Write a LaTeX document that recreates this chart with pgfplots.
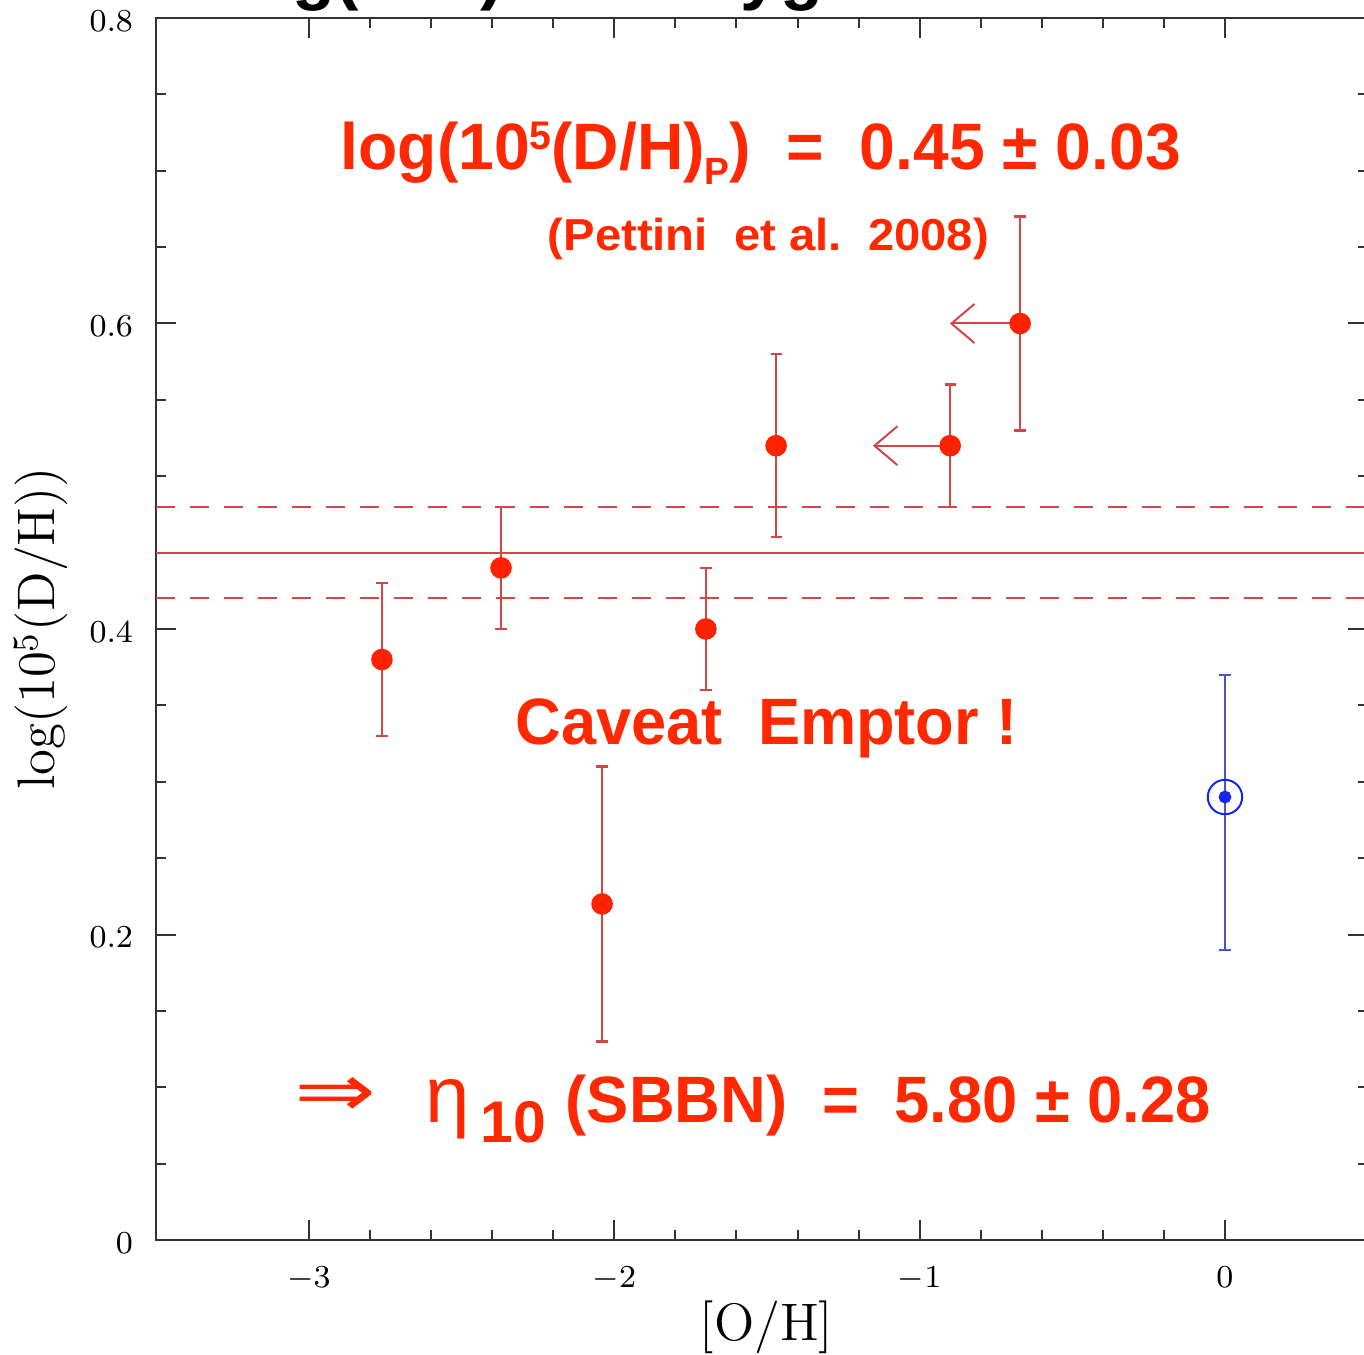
\documentclass[border=0pt]{standalone}
\usepackage{fontspec}
\usepackage{pgfplots}
\pgfplotsset{compat=1.18}
\usetikzlibrary{arrows.meta}
\newfontfamily\lsans{Liberation Sans}
\newfontfamily\djv{DejaVu Sans}
\definecolor{redtxt}{RGB}{255,40,0}
\definecolor{reddot}{RGB}{255,34,0}
\definecolor{redline}{RGB}{210,70,70}
\definecolor{blueline}{RGB}{70,85,210}
\definecolor{bluedot}{RGB}{20,40,235}
\begin{document}
\begin{tikzpicture}
\begin{axis}[
  scale only axis, width=303.04pt, height=305.5pt,
  xmin=-3.5, xmax=0.47, ymin=0, ymax=0.8,
  xtick={-3,-2,-1,0}, ytick={0,0.2,0.4,0.6,0.8},
  minor x tick num=4, minor y tick num=3,
  tick align=inside, major tick length=5pt, minor tick length=2.5pt,
  axis line style={line width=0.6pt, draw=black!80},
  every tick/.append style={line width=0.5pt, black!80},
  tick label style={font=\fontsize{8}{8}\selectfont},
  xticklabel style={yshift=-3.1pt},
  yticklabel style={xshift=-2.3pt, yshift=-0.7pt},
  xlabel={[O/H]}, ylabel={log(10$^5$(D/H))},
  label style={font=\fontsize{13.2}{13.2}\selectfont},
  xlabel style={at={(rel axis cs:0.5034,-0.0716)}, anchor=center},
  ylabel style={at={(rel axis cs:-0.0951,0.5004)}, anchor=center},
  clip=false,
]
% reference lines
\addplot[redline, line width=0.5pt] coordinates {(-3.5,0.45) (0.47,0.45)};
\addplot[redline, line width=0.5pt, dash pattern=on 4.75pt off 3.75pt] coordinates {(-3.5,0.48) (0.47,0.48)};
\addplot[redline, line width=0.5pt, dash pattern=on 4.75pt off 3.75pt] coordinates {(-3.5,0.42) (0.47,0.42)};
% upper-limit arrows
\addplot[redline, line width=0.5pt, -{Straight Barb[length=5.75pt, width=9.75pt]}] coordinates {(-0.90,0.52) (-1.153,0.52)};
\addplot[redline, line width=0.5pt, -{Straight Barb[length=5.75pt, width=9.75pt]}] coordinates {(-0.671,0.60) (-0.901,0.60)};
% red data
\addplot[only marks, mark=*, mark size=2.5pt, mark options={fill=reddot, draw=reddot},
  error bars/.cd, y dir=both, y explicit,
  error bar style={redline, line width=0.55pt},
  error mark options={rotate=90, redline, mark size=1.4pt, line width=0.55pt}]
  table[x=x, y=y, y error plus=ep, y error minus=em] {
x y ep em
-2.761 0.38 0.05 0.05
-2.371 0.44 0.04 0.04
-2.040 0.22 0.09 0.09
-1.700 0.40 0.04 0.04
-1.470 0.52 0.06 0.06
-0.900 0.52 0.04 0.04
-0.671 0.60 0.07 0.07
};
% solar value
\addplot[only marks, mark=o, mark size=4.3pt, mark options={draw=bluedot, line width=0.5pt},
  error bars/.cd, y dir=both, y explicit,
  error bar style={blueline, line width=0.55pt},
  error mark options={rotate=90, blueline, mark size=1.4pt, line width=0.55pt}]
  table[x=x, y=y, y error plus=ep, y error minus=em] {
x y ep em
0 0.29 0.08 0.10
};
\addplot[only marks, mark=*, mark size=1.4pt, bluedot] coordinates {(0,0.29)};
% annotations
\node[anchor=base west, inner sep=0, text=black, font=\lsans\bfseries\fontsize{17.6}{17.6}\selectfont] at (axis cs:-3.262,0.8144) {log(D/H) vs. Oxygen};
\node[anchor=base west, inner sep=0, text=redtxt, font=\lsans\bfseries\fontsize{16.4}{16.4}\selectfont] at (axis cs:-2.8985,0.7005)
  {\resizebox{210pt}{\height}{log(10\raisebox{5pt}{\fontsize{10}{10}\selectfont 5}(D/H)\raisebox{-3.75pt}{\fontsize{9.5}{9.5}\selectfont P})\ \ =\ \ 0.45 ± 0.03}};
\node[anchor=base west, inner sep=0, text=redtxt, font=\lsans\bfseries\fontsize{11.2}{11.2}\selectfont] at (axis cs:-2.2205,0.6481)
  {\resizebox{110.25pt}{\height}{(Pettini\ \ et al.\ \ 2008)}};
\node[anchor=base west, inner sep=0, text=redtxt, font=\lsans\bfseries\fontsize{16.4}{16.4}\selectfont] at (axis cs:-2.3253,0.3241)
  {\resizebox{125.5pt}{\height}{Caveat\ \ Emptor !}};
\node[anchor=center, inner sep=0, text=redtxt, font=\djv\fontsize{16}{16}\selectfont] at (axis cs:-2.9116,0.0933)
  {\resizebox{20.5pt}{9.75pt}{⇒}};
\node[anchor=base west, inner sep=0, text=redtxt, font=\lsans\fontsize{20}{20}\selectfont] at (axis cs:-2.6201,0.07725) {η};
\node[anchor=base west, inner sep=0, text=redtxt, font=\lsans\bfseries\fontsize{14.7}{14.7}\selectfont] at (axis cs:-2.44,0.06416) {10};
\node[anchor=base west, inner sep=0, text=redtxt, font=\lsans\bfseries\fontsize{16.4}{16.4}\selectfont] at (axis cs:-2.1616,0.07725)
  {\resizebox{161.25pt}{\height}{(SBBN)\ \ =\ \ 5.80 ± 0.28}};
% crop box
\coordinate (bbSW) at (axis cs:-4.0119,-0.07463);
\coordinate (bbNE) at (axis cs:0.4554,0.81178);
\end{axis}
\pgfresetboundingbox
\path[use as bounding box] (bbSW) rectangle (bbNE);
\end{tikzpicture}
\end{document}
